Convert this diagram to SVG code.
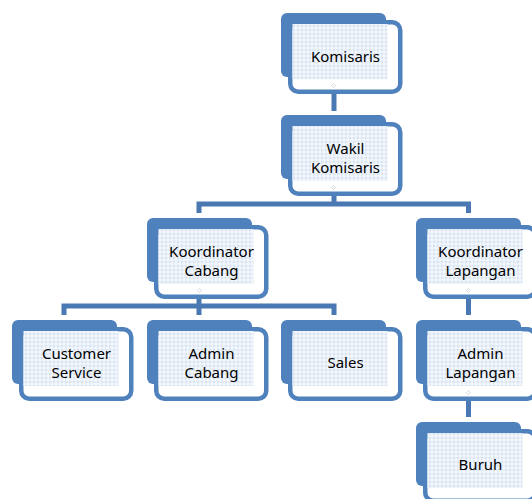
<svg xmlns="http://www.w3.org/2000/svg" width="532" height="499" viewBox="0 0 532 499">
  <defs>
    <pattern id="dots" width="4" height="4" patternUnits="userSpaceOnUse">
      <rect width="4" height="4" fill="#f4f7fc"/>
      <polygon points="2,0.7 3.3,2 2,3.3 0.7,2" fill="none" stroke="#c2d2ea" stroke-width="0.7"/>
    </pattern>
    <style>
      .back { fill: #4f81bd; }
      .front { fill: #ffffff; stroke: #4f81bd; stroke-width: 4.5; }
      .pat { fill: url(#dots); }
      .lbl { font-family: "Noto Sans", "Liberation Sans", Arial, sans-serif; font-size: 15px; fill: #000000; text-anchor: middle; }
      .conn { fill: none; stroke: #4a78b2; stroke-width: 5; stroke-linejoin: miter; }
      .pt { fill: none; stroke: #c3cad3; stroke-width: 0.7; }
    </style>
  </defs>
  <rect width="532" height="499" fill="#ffffff"/>

  <g id="connectors">
    <path class="conn" d="M334,94 V111"/>
    <path class="conn" d="M334,196 V204"/>
    <path class="conn" d="M199,213 V204 H468.5 V213"/>
    <path class="conn" d="M199,298 V315"/>
    <path class="conn" d="M64,315 V306 H334 V315"/>
    <path class="conn" d="M468.5,299 V315"/>
    <path class="conn" d="M468.5,401 V417"/>
  </g>

  <g id="komisaris">
    <rect class="back" x="281" y="13" width="105" height="64" rx="6"/>
    <rect class="front" x="290.25" y="22.25" width="110" height="69.5" rx="8"/>
    <rect class="pat" x="292.5" y="24" width="95" height="55"/>
    <text class="lbl" x="345.5" y="62">Komisaris</text>
    <polygon class="pt" points="333.5,83.5 335.5,85.5 333.5,87.5 331.5,85.5"/>
  </g>

  <g id="wakil-komisaris">
    <rect class="back" x="281" y="115" width="105" height="64" rx="6"/>
    <rect class="front" x="290.25" y="124.25" width="110" height="69.5" rx="8"/>
    <rect class="pat" x="292.5" y="126" width="95" height="55"/>
    <text class="lbl" x="345.5" y="154">Wakil</text>
    <text class="lbl" x="345.5" y="173">Komisaris</text>
    <polygon class="pt" points="333.5,185.5 335.5,187.5 333.5,189.5 331.5,187.5"/>
  </g>

  <g id="koordinator-cabang">
    <rect class="back" x="147" y="218" width="105" height="64" rx="6"/>
    <rect class="front" x="156.25" y="227.25" width="110" height="69.5" rx="8"/>
    <rect class="pat" x="158.5" y="229" width="95" height="55"/>
    <text class="lbl" x="211.5" y="257">Koordinator</text>
    <text class="lbl" x="211.5" y="276">Cabang</text>
    <polygon class="pt" points="199.5,288.5 201.5,290.5 199.5,292.5 197.5,290.5"/>
  </g>

  <g id="koordinator-lapangan">
    <rect class="back" x="416" y="218" width="105" height="64" rx="6"/>
    <rect class="front" x="425.25" y="227.25" width="110" height="69.5" rx="8"/>
    <rect class="pat" x="427.5" y="229" width="95" height="55"/>
    <text class="lbl" x="480.5" y="257">Koordinator</text>
    <text class="lbl" x="480.5" y="276">Lapangan</text>
    <polygon class="pt" points="468.5,288.5 470.5,290.5 468.5,292.5 466.5,290.5"/>
  </g>

  <g id="customer-service">
    <rect class="back" x="12" y="320" width="105" height="64" rx="6"/>
    <rect class="front" x="21.25" y="329.25" width="110" height="69.5" rx="8"/>
    <rect class="pat" x="23.5" y="331" width="95" height="55"/>
    <text class="lbl" x="76.5" y="359">Customer</text>
    <text class="lbl" x="76.5" y="378">Service</text>
  </g>

  <g id="admin-cabang">
    <rect class="back" x="147" y="320" width="105" height="64" rx="6"/>
    <rect class="front" x="156.25" y="329.25" width="110" height="69.5" rx="8"/>
    <rect class="pat" x="158.5" y="331" width="95" height="55"/>
    <text class="lbl" x="211.5" y="359">Admin</text>
    <text class="lbl" x="211.5" y="378">Cabang</text>
  </g>

  <g id="sales">
    <rect class="back" x="281" y="320" width="105" height="64" rx="6"/>
    <rect class="front" x="290.25" y="329.25" width="110" height="69.5" rx="8"/>
    <rect class="pat" x="292.5" y="331" width="95" height="55"/>
    <text class="lbl" x="345.5" y="368">Sales</text>
  </g>

  <g id="admin-lapangan">
    <rect class="back" x="416" y="320" width="105" height="64" rx="6"/>
    <rect class="front" x="425.25" y="329.25" width="110" height="69.5" rx="8"/>
    <rect class="pat" x="427.5" y="331" width="95" height="55"/>
    <text class="lbl" x="480.5" y="359">Admin</text>
    <text class="lbl" x="480.5" y="378">Lapangan</text>
    <polygon class="pt" points="468.5,390.5 470.5,392.5 468.5,394.5 466.5,392.5"/>
  </g>

  <g id="buruh">
    <rect class="back" x="416" y="422" width="105" height="64" rx="6"/>
    <rect class="front" x="425.25" y="431.25" width="110" height="69.5" rx="8"/>
    <rect class="pat" x="427.5" y="433" width="95" height="55"/>
    <text class="lbl" x="480.5" y="470">Buruh</text>
  </g>
</svg>
